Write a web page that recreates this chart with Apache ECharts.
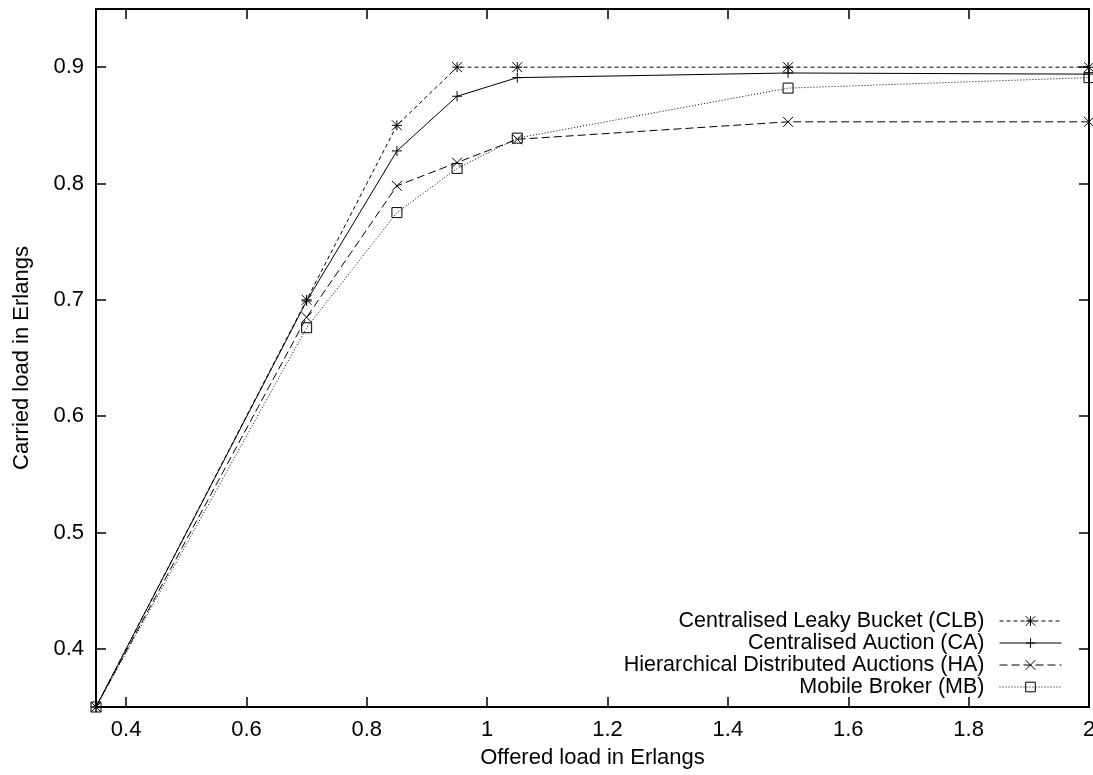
<!DOCTYPE html>
<html>
<head>
<meta charset="utf-8">
<script src="https://cdn.jsdelivr.net/npm/echarts@6/dist/echarts.min.js"></script>
<style>
  html, body { margin: 0; padding: 0; background: #fff; }
  #chart { width: 1093px; height: 775px; }
</style>
</head>
<body>
<div id="chart"></div>
<script>
// Offered load (Erlangs) at which each scheme was measured
const offered = [0.35, 0.7, 0.85, 0.95, 1.05, 1.5, 2.0];

// Carried load (Erlangs) per scheme
const clb = [0.35, 0.700, 0.850, 0.900, 0.900, 0.900, 0.900];
const ca  = [0.35, 0.699, 0.828, 0.875, 0.891, 0.895, 0.894];
const ha  = [0.35, 0.685, 0.798, 0.818, 0.838, 0.853, 0.853];
const mb  = [0.35, 0.676, 0.775, 0.813, 0.839, 0.882, 0.891];

const seriesNames = [
  'Centralised Leaky Bucket (CLB)',
  'Centralised Auction (CA)',
  'Hierarchical Distributed Auctions (HA)',
  'Mobile Broker (MB)'
];

// Tick positions
const xTicks = [0.4, 0.6, 0.8, 1, 1.2, 1.4, 1.6, 1.8, 2];
const yTicks = [0.4, 0.5, 0.6, 0.7, 0.8, 0.9];

const FONT = '"Liberation Sans", Arial, Helvetica, sans-serif';

const pairs = ys => offered.map((x, i) => [x, ys[i]]);

const SYM_PLUS = 'path://M5 0V10M0 5H10';
const SYM_CROSS = 'path://M0 0L10 10M10 0L0 10';
const SYM_STAR = 'path://M5 0V10M0 5H10M0 0L10 10M10 0L0 10';
const SYM_SQUARE = 'path://M0 0H10V10H0Z';

function makeSeries(name, ys, symbol, dash, fill) {
  return {
    name: name,
    type: 'line',
    data: pairs(ys),
    symbol: symbol,
    symbolSize: 10,
    showAllSymbol: true,
    clip: false,
    itemStyle: { color: fill, borderColor: '#000', borderWidth: 1 },
    lineStyle: { color: '#000', width: 1, type: dash },
    emphasis: { disabled: true }
  };
}

const axisText = { color: '#000', fontFamily: FONT, fontSize: 22 };

function axisBase(extra) {
  return Object.assign({
    type: 'value',
    splitLine: { show: false },
    axisLine: { show: true, onZero: false, lineStyle: { color: '#000', width: 2 } }
  }, extra);
}

const chart = echarts.init(document.getElementById('chart'), null, { renderer: 'canvas' });

chart.setOption({
  animation: false,
  backgroundColor: '#fff',
  grid: { left: 96, right: 4, top: 9, bottom: 68, containLabel: false, outerBoundsMode: 'none' },
  legend: {
    orient: 'vertical',
    right: 31,
    top: 610,
    padding: 0,
    align: 'right',
    itemWidth: 62,
    itemHeight: 12,
    itemGap: 0,
    selectedMode: false,
    lineStyle: { width: 1 },
    itemStyle: { borderWidth: 1 },
    textStyle: { color: '#000', fontFamily: FONT, fontSize: 21.5, lineHeight: 22, padding: [0, 10, 0, 0] },
    data: seriesNames
  },
  xAxis: [
    axisBase({
      position: 'bottom',
      min: 0.35, max: 2,
      name: 'Offered load in Erlangs',
      nameLocation: 'middle',
      nameGap: 40,
      nameTextStyle: axisText,
      axisTick: { show: true, inside: true, length: 10, customValues: xTicks, lineStyle: { color: '#000', width: 1.5 } },
      axisLabel: Object.assign({ margin: 12, customValues: xTicks }, axisText)
    }),
    axisBase({
      position: 'top',
      min: 0.35, max: 2,
      axisTick: { show: true, inside: true, length: 10, customValues: xTicks, lineStyle: { color: '#000', width: 1.5 } },
      axisLabel: { show: false }
    })
  ],
  yAxis: [
    axisBase({
      position: 'left',
      min: 0.35, max: 0.95,
      name: 'Carried load in Erlangs',
      nameLocation: 'middle',
      nameRotate: 90,
      nameGap: 63,
      nameTextStyle: axisText,
      axisTick: { show: true, inside: true, length: 10, customValues: yTicks, lineStyle: { color: '#000', width: 1.5 } },
      axisLabel: Object.assign({ margin: 12, customValues: yTicks }, axisText)
    }),
    axisBase({
      position: 'right',
      min: 0.35, max: 0.95,
      axisTick: { show: true, inside: true, length: 10, customValues: yTicks, lineStyle: { color: '#000', width: 1.5 } },
      axisLabel: { show: false }
    })
  ],
  series: [
    makeSeries(seriesNames[0], clb, SYM_STAR, [4, 3], '#000'),
    makeSeries(seriesNames[1], ca, SYM_PLUS, 'solid', '#000'),
    makeSeries(seriesNames[2], ha, SYM_CROSS, [8, 4], '#000'),
    makeSeries(seriesNames[3], mb, SYM_SQUARE, [1, 2], 'rgba(0,0,0,0)')
  ]
});
</script>
</body>
</html>
